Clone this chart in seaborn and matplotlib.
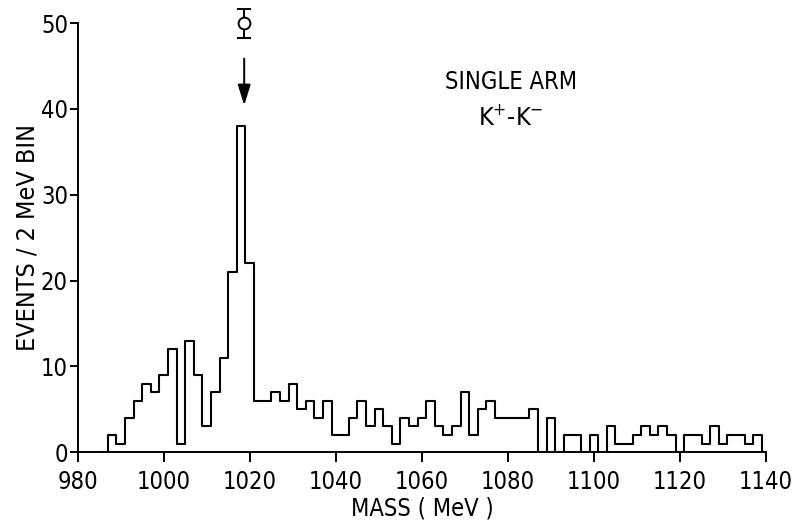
import numpy as np
import pandas as pd
import matplotlib
matplotlib.use("Agg")
import matplotlib.pyplot as plt
import seaborn as sns

# ---- data ----
bin_start = 985      # first (empty) bin lower edge, MeV
bin_width = 2        # MeV
counts = [0,
          2, 1, 4, 6, 8, 7, 9, 12, 1, 13,
          9, 3, 7, 11, 21, 38, 22, 6, 6, 7,
          6, 8, 5, 6, 4, 6, 2, 2, 4, 6,
          3, 5, 3, 1, 4, 3, 4, 6, 3, 2,
          3, 7, 2, 5, 6, 4, 4, 4, 4, 5,
          0, 4, 0, 2, 2, 0, 2, 0, 3, 1,
          1, 2, 3, 2, 3, 2, 0, 2, 2, 1,
          3, 1, 2, 2, 1, 2,
          0]
x_ticks = [980, 1000, 1020, 1040, 1060, 1080, 1100, 1120, 1140]
y_ticks = [0, 10, 20, 30, 40, 50]
phi_mass = [1018.7]
phi_events = [50]
phi_err = [1.7]

edges = [float(bin_start + bin_width * i) for i in range(len(counts) + 1)]
centers = [e + bin_width / 2 for e in edges[:-1]]
df = pd.DataFrame({"mass": centers, "events": counts})

sns.set_style("ticks")
plt.rcParams["font.family"] = ["DejaVu Sans"]
plt.rcParams["font.stretch"] = "condensed"
for k in ["text.color", "axes.labelcolor", "xtick.color", "ytick.color",
          "axes.edgecolor"]:
    plt.rcParams[k] = "black"

fig = plt.figure(figsize=(7.93, 5.27), dpi=100)
ax = fig.add_axes([0.098, 0.142, 0.868, 0.814])

sns.histplot(data=df, x="mass", weights="events", bins=edges,
             element="step", fill=False, color="black", linewidth=1.5, ax=ax)

# phi marker with error bar
ax.errorbar(phi_mass, phi_events, yerr=phi_err, fmt="o", mfc="white",
            mec="black", ecolor="black", ms=8.5, mew=1.4, elinewidth=1.4,
            capsize=5, capthick=1.4, clip_on=False, zorder=5)
ax.annotate("", xy=(phi_mass[0], 40.1), xytext=(phi_mass[0], 46.2),
            arrowprops=dict(arrowstyle="-|>,head_length=0.9,head_width=0.28",
                            color="black", lw=1.4, mutation_scale=14),
            annotation_clip=False)

ax.text(1080.7, 43.1, "SINGLE ARM", ha="center", va="center", fontsize=17)
ax.text(1080.7, 39.0, "K$^{+}$-K$^{-}$", ha="center", va="center", fontsize=18)

ax.set_xlim(980, 1140)
ax.set_ylim(0, 50)
ax.set_xticks(x_ticks)
ax.set_yticks(y_ticks)
ax.tick_params(axis="both", direction="out", width=1.4, labelsize=17)
ax.tick_params(axis="x", length=7, pad=6)
ax.tick_params(axis="y", length=6, pad=1)
for s in ["top", "right"]:
    ax.spines[s].set_visible(False)
for s in ["left", "bottom"]:
    ax.spines[s].set_linewidth(1.4)

ax.set_xlabel("MASS ( MeV )", fontsize=17, labelpad=2)
ax.set_ylabel("EVENTS / 2 MeV BIN", fontsize=18, labelpad=1)

fig.savefig("out.png", dpi=100)
